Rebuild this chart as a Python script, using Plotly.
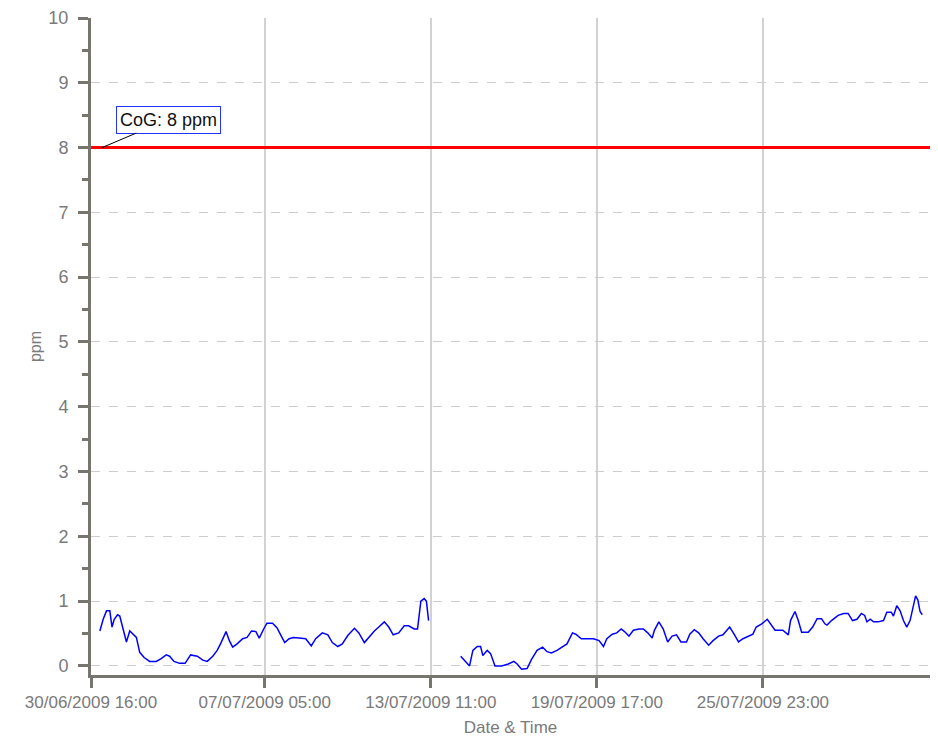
"""
CoG ppm readings over July 2009, with the 8 ppm limit line.
"""

import pandas as pd
import plotly.graph_objects as go

# data logger readings, hours counted from the first axis tick
start_time = pd.Timestamp("2009-06-30 16:00")

hours_offset = [
    8, 11, 14, 17, 19, 21, 24, 26, 29, 32,
    35, 38, 41, 44, 48, 53, 59, 63, 68, 71,
    75, 80, 85, 90, 96, 101, 105, 110, 114, 117,
    122, 125, 128, 132, 137, 141, 145, 149, 152, 156,
    159, 164, 168, 171, 175, 179, 183, 188, 194, 199,
    203, 209, 214, 218, 223, 227, 232, 238, 242, 247,
    251, 256, 260, 265, 269, 273, 278, 283, 287, 292,
    295, 296, 298, 301, 303, 305,
    320,  # logger offline
    334, 338, 342, 345, 349, 352, 354, 358, 361, 365,
    371, 377, 382, 385, 389, 394, 398, 403, 408, 412,
    416, 421, 426, 430, 435, 438, 443, 448, 454, 459,
    463, 466, 471, 475, 479, 482, 486, 490, 495, 499,
    503, 507, 509, 513, 517, 521, 525, 529, 533, 538,
    541, 545, 549, 553, 558, 562, 567, 571, 577, 581,
    585, 589, 594, 598, 601, 606, 611, 614, 618, 625,
    630, 632, 636, 639, 642, 648, 652, 656, 660, 663,
    665, 669, 675, 680, 684, 688, 692, 696, 699, 701,
    704, 707, 711, 716, 719, 723, 725, 728, 731, 734,
    737, 740, 743, 745, 747, 749, 751,
]

ppm = [
    0.54, 0.72, 0.85, 0.85, 0.60, 0.72, 0.79, 0.77, 0.57, 0.37,
    0.54, 0.49, 0.44, 0.21, 0.13, 0.07, 0.07, 0.11, 0.17, 0.15,
    0.07, 0.04, 0.04, 0.17, 0.15, 0.09, 0.07, 0.15, 0.24, 0.34,
    0.53, 0.39, 0.29, 0.34, 0.42, 0.44, 0.54, 0.53, 0.43, 0.57,
    0.66, 0.66, 0.59, 0.49, 0.36, 0.42, 0.44, 0.43, 0.42, 0.31,
    0.42, 0.51, 0.48, 0.36, 0.30, 0.34, 0.47, 0.58, 0.51, 0.36,
    0.44, 0.54, 0.60, 0.68, 0.60, 0.48, 0.51, 0.62, 0.62, 0.57,
    0.57, 0.75, 1.00, 1.04, 1.00, 0.70,
    None,
    0.15, 0.08, 0.00, 0.24, 0.30, 0.30, 0.16, 0.24, 0.19, 0.00,
    0.00, 0.03, 0.07, 0.03, -0.05, -0.04, 0.10, 0.24, 0.29, 0.22,
    0.20, 0.24, 0.29, 0.34, 0.51, 0.49, 0.42, 0.42, 0.42, 0.39,
    0.30, 0.42, 0.49, 0.51, 0.57, 0.53, 0.46, 0.55, 0.57, 0.57,
    0.51, 0.43, 0.55, 0.68, 0.57, 0.37, 0.46, 0.48, 0.37, 0.37,
    0.49, 0.56, 0.51, 0.42, 0.32, 0.39, 0.46, 0.48, 0.60, 0.49,
    0.37, 0.42, 0.46, 0.49, 0.60, 0.65, 0.72, 0.64, 0.55, 0.55,
    0.48, 0.70, 0.84, 0.70, 0.52, 0.52, 0.60, 0.73, 0.73, 0.65,
    0.63, 0.70, 0.78, 0.81, 0.81, 0.70, 0.72, 0.81, 0.78, 0.68,
    0.72, 0.68, 0.68, 0.70, 0.83, 0.83, 0.77, 0.93, 0.85, 0.70,
    0.60, 0.70, 0.93, 1.08, 1.02, 0.84, 0.79,
]

tick_hours = [0, 157, 307, 457, 607]
axis_end_hours = 758
cog_limit = 8
cog_label = "CoG: 8 ppm"

AXIS_COLOR = "#77766e"
LABEL_COLOR = "#7a7a7a"
FONT = "Liberation Sans, Arial, sans-serif"

times = start_time + pd.to_timedelta(hours_offset, unit="h")
tick_times = start_time + pd.to_timedelta(tick_hours, unit="h")

fig = go.Figure()

fig.add_trace(go.Scatter(
    x=times,
    y=ppm,
    mode="lines",
    line=dict(color="#0000ff", width=1.5),
    connectgaps=False,
    showlegend=False,
))

fig.add_hline(y=cog_limit, line=dict(color="#ff0000", width=3), layer="above")

fig.add_annotation(
    x=start_time + pd.Timedelta(hours=10),
    y=cog_limit,
    text=cog_label,
    showarrow=True,
    arrowhead=0,
    arrowwidth=1,
    arrowcolor="#000000",
    ax=66,
    ay=-28,
    bgcolor="white",
    bordercolor="#2233ff",
    borderwidth=1,
    borderpad=3,
    font=dict(family=FONT, size=18, color="#111111"),
)

fig.update_xaxes(
    type="date",
    range=[start_time, start_time + pd.Timedelta(hours=axis_end_hours)],
    tickvals=tick_times,
    ticktext=[t.strftime("%d/%m/%Y %H:%M") for t in tick_times],
    ticks="outside",
    ticklen=10,
    tickwidth=3,
    tickcolor=AXIS_COLOR,
    showline=True,
    linewidth=3,
    linecolor=AXIS_COLOR,
    showgrid=True,
    gridcolor="#d2d2d2",
    gridwidth=1.5,
    zeroline=False,
    automargin=False,
    tickfont=dict(family=FONT, size=17, color=LABEL_COLOR),
    title=dict(text="Date & Time", font=dict(family=FONT, size=17, color=LABEL_COLOR), standoff=11),
)

fig.update_yaxes(
    range=[-0.14, 10],
    tick0=0,
    dtick=1,
    ticks="outside",
    ticklen=10,
    tickwidth=3,
    tickcolor=AXIS_COLOR,
    minor=dict(dtick=0.5, ticks="outside", ticklen=6, tickwidth=3, tickcolor=AXIS_COLOR, showgrid=False),
    showline=True,
    linewidth=3,
    linecolor=AXIS_COLOR,
    showgrid=True,
    gridcolor="#cccccc",
    griddash="dash",
    gridwidth=1,
    zeroline=False,
    automargin=False,
    ticklabelstandoff=6,
    tickfont=dict(family=FONT, size=18, color=LABEL_COLOR),
    title=dict(text="ppm", font=dict(family=FONT, size=16, color=LABEL_COLOR), standoff=3),
)

# the page body keeps its 8px default margin, so the figure is 8px smaller
fig.update_layout(
    width=930,
    height=729,
    margin=dict(l=83, r=8, t=10, b=62),
    plot_bgcolor="white",
    paper_bgcolor="white",
    font=dict(family=FONT),
)

fig.write_html("out.html")
